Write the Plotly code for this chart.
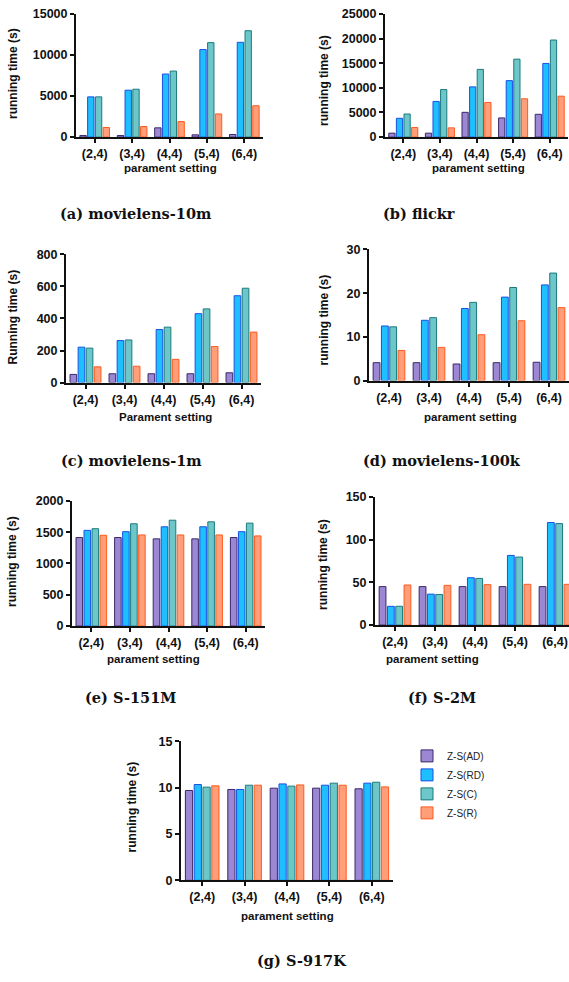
import plotly.graph_objects as go

W, H = 569, 982

# parameter settings on the x axis
settings = ["(2,4)", "(3,4)", "(4,4)", "(5,4)", "(6,4)"]
methods = ["Z-S(AD)", "Z-S(RD)", "Z-S(C)", "Z-S(R)"]

# running times (seconds) per dataset, one list per method
ml10m_ad = [200, 200, 1130, 280, 320]
ml10m_rd = [4900, 5710, 7680, 10660, 11540]
ml10m_c = [4900, 5830, 8040, 11500, 12950]
ml10m_r = [1170, 1290, 1890, 2820, 3820]

flickr_ad = [800, 800, 5030, 3890, 4630]
flickr_rd = [3820, 7240, 10190, 11460, 14950]
flickr_c = [4690, 9650, 13740, 15820, 19700]
flickr_r = [1940, 1880, 7040, 7780, 8310]

ml1m_ad = [51, 55, 55, 55, 61]
ml1m_rd = [221, 262, 331, 430, 542]
ml1m_c = [215, 266, 346, 460, 589]
ml1m_r = [98, 102, 145, 225, 315]

ml100k_ad = [4.1, 4.1, 3.8, 4.1, 4.2]
ml100k_rd = [12.5, 13.8, 16.5, 19.1, 21.9]
ml100k_c = [12.3, 14.4, 17.9, 21.3, 24.6]
ml100k_r = [6.9, 7.6, 10.5, 13.7, 16.7]

s151m_ad = [1414, 1414, 1393, 1393, 1414]
s151m_rd = [1529, 1508, 1586, 1586, 1508]
s151m_c = [1555, 1634, 1691, 1665, 1644]
s151m_r = [1450, 1455, 1455, 1455, 1440]

s2m_ad = [45, 45, 45, 45, 45]
s2m_rd = [21.9, 36.2, 55.4, 81.5, 120]
s2m_c = [22, 35.8, 54.6, 79.6, 118.8]
s2m_r = [46.9, 46.5, 47.3, 47.7, 47.7]

s917k_ad = [9.7, 9.81, 9.95, 9.95, 9.88]
s917k_rd = [10.34, 9.81, 10.41, 10.27, 10.49]
s917k_c = [10.06, 10.27, 10.17, 10.49, 10.59]
s917k_r = [10.2, 10.27, 10.3, 10.27, 10.09]

captions = ["(a) movielens-10m", "(b) flickr", "(c) movielens-1m",
            "(d) movielens-100k", "(e) S-151M", "(f) S-2M", "(g) S-917K"]
y_titles = ["running time (s)", "running time (s)", "Running time (s)",
            "running time (s)", "running time (s)", "running time (s)",
            "running time (s)"]
x_titles = ["parament setting", "parament setting", "Parament setting",
            "parament setting", "parament setting", "parament setting",
            "parament setting"]
y_max = [15000, 25000, 800, 30, 2000, 150, 15]
y_step = [5000, 5000, 200, 10, 500, 50, 5]

datasets = [
    [ml10m_ad, ml10m_rd, ml10m_c, ml10m_r],
    [flickr_ad, flickr_rd, flickr_c, flickr_r],
    [ml1m_ad, ml1m_rd, ml1m_c, ml1m_r],
    [ml100k_ad, ml100k_rd, ml100k_c, ml100k_r],
    [s151m_ad, s151m_rd, s151m_c, s151m_r],
    [s2m_ad, s2m_rd, s2m_c, s2m_r],
    [s917k_ad, s917k_rd, s917k_c, s917k_r],
]

fills = ["#9c87d3", "#1ebfff", "#6dc6c8", "#ff9e78"]
edges = ["#3a2868", "#1a4fe6", "#1b7a7e", "#ff5a1e"]

# panel geometry in pixels: plot-area left, right, top, bottom, x range end
panels = [
    (76, 263, 7, 132, 4.5),
    (385, 568, 7, 132, 4.5),
    (66, 261, 251, 381, 4.5),
    (369, 569, 246, 379, 4.5),
    (72, 265, 501, 628, 4.5),
    (375, 569, 497, 627, 4.35),
    (181, 393, 745, 886, 4.5),
]
ytitle_pos = [(13, 68), (324, 75), (13, 315), (324, 318), (12, 563), (323, 566), (132, 812)]
xtitle_pos = [(170, 163), (478, 163), (165, 416), (470, 416), (153, 661), (433, 661), (287, 922)]
caption_pos = [(136, 209), (419, 209), (131, 460), (442, 460), (130, 700), (442, 700), (302, 967)]

def px_x(x):
    return x / W

def px_y(y):
    return 1 - y / H

fig = go.Figure()
layout = dict(
    width=W, height=H, autosize=False,
    margin=dict(l=0, r=0, t=0, b=0),
    paper_bgcolor="white", plot_bgcolor="white",
    barmode="group", bargap=0.17, bargroupgap=0.18,
    showlegend=True,
    legend=dict(x=px_x(407), y=px_y(745), xanchor="left", yanchor="top",
                font=dict(family="Arial", size=10, color="#222"),
                bgcolor="rgba(0,0,0,0)", tracegroupgap=0, itemwidth=30),
)

annotations = []
tick_font = dict(family="Arial", size=12.5, color="#111", weight="bold")

for i, (series, (l, r, t, b, xend)) in enumerate(zip(datasets, panels)):
    k = i + 1
    xa = "x" if k == 1 else f"x{k}"
    ya = "y" if k == 1 else f"y{k}"
    for j, vals in enumerate(series):
        fig.add_trace(go.Bar(
            x=settings, y=vals, name=methods[j], xaxis=xa, yaxis=ya,
            marker=dict(color=fills[j], line=dict(color=edges[j], width=1)),
            legendgroup=methods[j], showlegend=(i == 0),
        ))
    layout[f"xaxis{k}"] = dict(
        domain=[px_x(l), px_x(r)], anchor=ya, range=[-0.5, xend],
        showline=True, linecolor="#111", linewidth=2,
        ticks="outside", ticklen=4, tickwidth=1.5, tickcolor="#111",
        tickfont=tick_font, showgrid=False, zeroline=False, fixedrange=True,
    )
    layout[f"yaxis{k}"] = dict(
        domain=[px_y(b), px_y(t)], anchor=xa, range=[0, y_max[i]],
        tickmode="linear", tick0=0, dtick=y_step[i], tickformat="d",
        showline=True, linecolor="#111", linewidth=2,
        ticks="outside", ticklen=4, tickwidth=1.5, tickcolor="#111",
        tickfont=tick_font, showgrid=False, zeroline=False, fixedrange=True,
    )
    tx, ty = ytitle_pos[i]
    annotations.append(dict(
        x=px_x(tx), y=px_y(ty), xref="paper", yref="paper", text=y_titles[i],
        textangle=-90, showarrow=False, xanchor="center", yanchor="middle",
        font=dict(family="Arial", size=12, color="#111", weight="bold"),
    ))
    sx, sy = xtitle_pos[i]
    annotations.append(dict(
        x=px_x(sx), y=px_y(sy), xref="paper", yref="paper", text=x_titles[i],
        showarrow=False, xanchor="center", yanchor="middle",
        font=dict(family="Arial", size=11.5, color="#111", weight="bold"),
    ))
    cx, cy = caption_pos[i]
    annotations.append(dict(
        x=px_x(cx), y=px_y(cy), xref="paper", yref="paper", text=captions[i],
        showarrow=False, xanchor="center", yanchor="middle",
        font=dict(family="DejaVu Serif", size=14.5, color="#111", weight="bold"),
    ))

layout["annotations"] = annotations
fig.update_layout(**layout)
fig.write_html("out.html")
